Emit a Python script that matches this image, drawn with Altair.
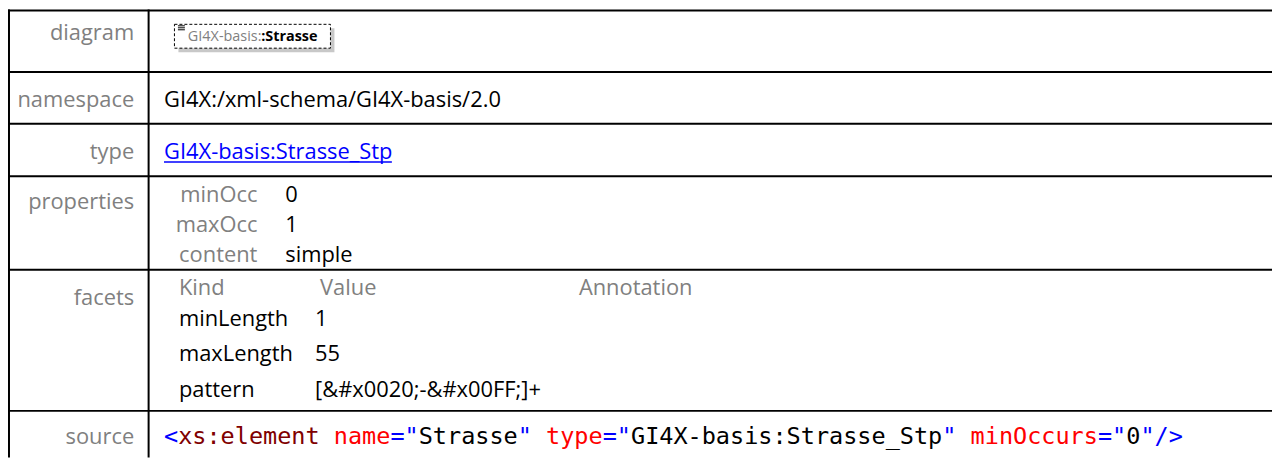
import altair as alt
import pandas as pd

# ---------------- data (text content) ----------------
row_labels = ["diagram", "namespace", "type", "properties", "facets", "source"]
diagram_prefix = "GI4X-basis:"
diagram_name = ":Strasse"
namespace_value = "GI4X:/xml-schema/GI4X-basis/2.0"
type_value = "GI4X-basis:Strasse_Stp"
prop_names = ["minOcc", "maxOcc", "content"]
prop_values = ["0", "1", "simple"]
facet_headers = ["Kind", "Value", "Annotation"]
facet_kinds = ["minLength", "maxLength", "pattern"]
facet_values = ["1", "55", "[&#x0020;-&#x00FF;]+"]
source_tokens = ['<', 'xs:element', ' ', 'name', '="', 'Strasse', '"', ' ',
                 'type', '="', 'GI4X-basis:Strasse_Stp', '"', ' ',
                 'minOccurs', '="', '0', '"/>']
source_roles = ['markup', 'element', 'space', 'attribute', 'markup', 'text', 'markup', 'space',
                'attribute', 'markup', 'text', 'markup', 'space',
                'attribute', 'markup', 'text', 'markup']

# ---------------- layout / style ----------------
PAGE_W, PAGE_H, MARGIN = 1280, 459, 8
row_tops = [4, 71, 123, 176, 270, 412]
label_baselines = [39, 106, 158.5, 209, 305, 445]
LEFT_BORDER = 6
COL_DIV = 149.5
LABEL_RIGHT = 135
VALUE_LEFT = 165
FONT = "Open Sans"
FS = 22
GRAY = "#808080"
LINK = "#0000ff"
role_colors = {"markup": "#0000ff", "element": "#800000", "attribute": "#ff0000", "text": "#000000"}

prop_label_right, prop_value_left = 259, 287
prop_baselines = [202, 232, 262]
facet_header_x = [180, 322, 582.5]
facet_header_y = 295
facet_kind_x, facet_value_x = 180, 317
facet_baselines = [327, 362, 398]

MONO = "DejaVu Sans Mono"
MONO_ADV = 0.60205
CELL = 14.24
MONO_FS = CELL / MONO_ADV
CODE_BASELINE = 445.5

TYPE_TEXT_W = 10.423 * FS  # approximate advance of the link text (Open Sans)

# diagram box geometry
BOX = dict(x1=175.5, x2=332.5, y1=23, y2=47)
SHADOW_OFF = 4
DIAG_FS = 14.5
DIAG_TEXT_X = 189
DIAG_BASE = 39.5
DIAG_PREFIX_W = 5.089 * DIAG_FS

xsc = alt.Scale(domain=[MARGIN, PAGE_W], nice=False, zero=False)
ysc = alt.Scale(domain=[MARGIN, PAGE_H], nice=False, zero=False, reverse=True)


def X(f):
    return alt.X(f, type="quantitative", scale=xsc, axis=None)


def Y(f):
    return alt.Y(f, type="quantitative", scale=ysc, axis=None)


# ---------------- grid lines ----------------
vis_top = MARGIN + 1
hdf = pd.DataFrame({"y": [max(t, vis_top) for t in row_tops],
                    "x1": MARGIN, "x2": PAGE_W})
hlines = alt.Chart(hdf).mark_rule(color="black", strokeWidth=2).encode(
    x=X("x1"), x2=alt.X2("x2"), y=Y("y"))

vdf = pd.DataFrame({"x": [max(LEFT_BORDER, MARGIN + 1), COL_DIV],
                    "y1": MARGIN, "y2": PAGE_H})
vlines = alt.Chart(vdf).mark_rule(color="black", strokeWidth=2).encode(
    x=X("x"), y=Y("y1"), y2=alt.Y2("y2"))

# ---------------- gray right-aligned labels ----------------
ldf = pd.DataFrame({
    "text": row_labels + prop_names,
    "x": [LABEL_RIGHT] * len(row_labels) + [prop_label_right] * len(prop_names),
    "y": label_baselines + prop_baselines,
})
labels = alt.Chart(ldf).mark_text(align="right", baseline="alphabetic", font=FONT,
                                  fontSize=FS, color=GRAY).encode(
    x=X("x"), y=Y("y"), text="text:N")

# ---------------- left-aligned values ----------------
rows = []
rows.append((namespace_value, VALUE_LEFT, label_baselines[1], "#000000"))
rows.append((type_value, VALUE_LEFT, label_baselines[2], LINK))
for v, yb in zip(prop_values, prop_baselines):
    rows.append((v, prop_value_left, yb, "#000000"))
for h, hx in zip(facet_headers, facet_header_x):
    rows.append((h, hx, facet_header_y, GRAY))
for k, v, yb in zip(facet_kinds, facet_values, facet_baselines):
    rows.append((k, facet_kind_x, yb, "#000000"))
    rows.append((v, facet_value_x, yb, "#000000"))
vdf2 = pd.DataFrame(rows, columns=["text", "x", "y", "color"])
values = alt.Chart(vdf2).mark_text(align="left", baseline="alphabetic", font=FONT,
                                   fontSize=FS).encode(
    x=X("x"), y=Y("y"), text="text:N", color=alt.Color("color:N", scale=None))

udf = pd.DataFrame({"x1": [VALUE_LEFT], "x2": [VALUE_LEFT + TYPE_TEXT_W],
                    "y": [label_baselines[2] + 3]})
underline = alt.Chart(udf).mark_rule(color=LINK, strokeWidth=1.5).encode(
    x=X("x1"), x2=alt.X2("x2"), y=Y("y"))

# ---------------- diagram box ----------------
sdf = pd.DataFrame({"x1": [BOX["x1"] + SHADOW_OFF], "x2": [BOX["x2"] + SHADOW_OFF],
                    "y1": [BOX["y1"] + SHADOW_OFF], "y2": [BOX["y2"] + SHADOW_OFF]})
shadow = alt.Chart(sdf).mark_rect(color="#c8c8c8").encode(
    x=X("x1"), x2=alt.X2("x2"), y=Y("y1"), y2=alt.Y2("y2"))
bdf = pd.DataFrame({k: [v] for k, v in BOX.items()})
box = alt.Chart(bdf).mark_rect(fill="white", stroke="black", strokeWidth=1,
                               strokeDash=[3, 2]).encode(
    x=X("x1"), x2=alt.X2("x2"), y=Y("y1"), y2=alt.Y2("y2"))
idf = pd.DataFrame({"x1": [179, 179, 179], "x2": [186, 186, 186],
                    "y": [24.5, 26.5, 28.5]})
icon = alt.Chart(idf).mark_rule(color="black", strokeWidth=1).encode(
    x=X("x1"), x2=alt.X2("x2"), y=Y("y"))
dpre = alt.Chart(pd.DataFrame({"text": [diagram_prefix], "x": [DIAG_TEXT_X], "y": [DIAG_BASE]})).mark_text(
    align="left", baseline="alphabetic", font=FONT, fontSize=DIAG_FS, color=GRAY).encode(
    x=X("x"), y=Y("y"), text="text:N")
dname = alt.Chart(pd.DataFrame({"text": [diagram_name], "x": [DIAG_TEXT_X + DIAG_PREFIX_W],
                                "y": [DIAG_BASE]})).mark_text(
    align="left", baseline="alphabetic", font=FONT, fontSize=DIAG_FS, fontWeight="bold",
    color="black").encode(x=X("x"), y=Y("y"), text="text:N")

# ---------------- source code ----------------
srows = []
idx = 0
for tok, role in zip(source_tokens, source_roles):
    if role != "space":
        srows.append((tok, VALUE_LEFT + idx * CELL, CODE_BASELINE, role_colors[role]))
    idx += len(tok)
cdf = pd.DataFrame(srows, columns=["text", "x", "y", "color"])
code = alt.Chart(cdf).mark_text(align="left", baseline="alphabetic", font=MONO,
                                fontSize=MONO_FS).encode(
    x=X("x"), y=Y("y"), text="text:N", color=alt.Color("color:N", scale=None))

chart = alt.layer(
    shadow, box, icon, dpre, dname, hlines, vlines, labels, values, underline, code
).properties(
    width=PAGE_W - MARGIN, height=PAGE_H - MARGIN,
    autosize=alt.AutoSizeParams(type="none"), padding=0, background="white"
).configure_view(stroke=None)

chart.save("out.html", embed_options={"renderer": "svg", "actions": False})
